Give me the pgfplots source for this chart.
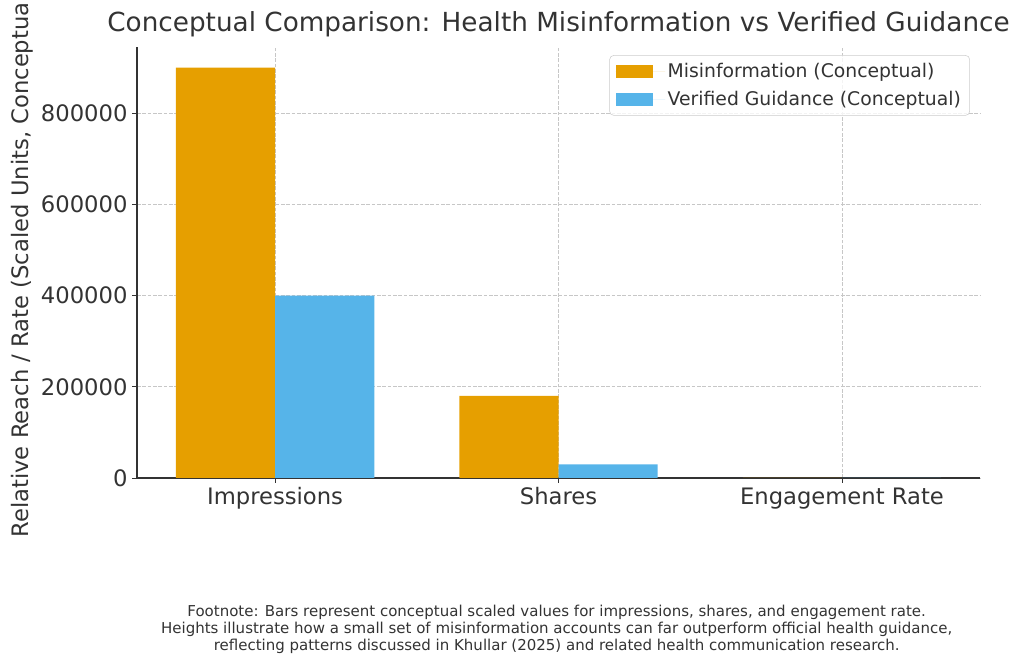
\documentclass[border=0pt]{standalone}
\usepackage{fontspec}
\setmainfont{DejaVu Sans}
\usepackage{pgfplots}
\pgfplotsset{compat=1.18}
\definecolor{misinfo}{HTML}{E69F00}
\definecolor{verified}{HTML}{56B4E9}
\definecolor{txt}{HTML}{333333}

\begin{document}
\begin{tikzpicture}
\useasboundingbox (0,0) rectangle (768pt,499.5pt);
\begin{axis}[
    at={(102.75pt,141pt)}, anchor=south west,
    scale only axis, width=632.25pt, height=323.25pt,
    xmin=-0.487, xmax=2.487, ymin=0, ymax=945000,
    axis x line*=bottom, axis y line*=left,
    axis line style={txt, line width=0.8pt},
    xtick={0,1,2},
    xticklabels={Impressions, Shares, Engagement Rate},
    ytick={0,200000,400000,600000,800000},
    scaled y ticks=false,
    yticklabel style={/pgf/number format/fixed, /pgf/number format/1000 sep={}},
    /pgf/number format/assume math mode=true,
    tick label style={font=\fontsize{17}{20.4}\selectfont, text=txt},
    tick align=outside, major tick length=3.6pt,
    tick style={txt, line width=0.6pt},
    grid=major,
    grid style={dash pattern=on 2.8pt off 1.2pt, black!22, line width=0.6pt},
    ylabel={Relative Reach / Rate (Scaled Units, Conceptual)},
    ylabel style={at={(axis description cs:-0.1364,0.5)}, anchor=center,
        font=\fontsize{17}{20.4}\selectfont, text=txt},
    legend style={at={(0.988,0.981)}, anchor=north east,
        draw=black!20, rounded corners=3pt, fill=white, fill opacity=0.8,
        text opacity=1, font=\fontsize{14.1}{17}\selectfont, text=txt,
        row sep=4.5pt, inner xsep=4.5pt, inner ysep=4pt},
    legend cell align=left,
    legend image code/.code={
        \fill[#1, sharp corners, fill opacity=1] (0pt,-4.9pt) rectangle (27.75pt,4.9pt);
        \path (0pt,0pt) -- (37pt,0pt);},
]
\addplot[ybar, bar width=0.35, bar shift=-0.175, fill=misinfo, draw=none]
    coordinates {(0,900000) (1,180000) (2,0.045)};
\addlegendentry{Misinformation (Conceptual)}
\addplot[ybar, bar width=0.35, bar shift=0.175, fill=verified, draw=none]
    coordinates {(0,400000) (1,30000) (2,0.021)};
\addlegendentry{Verified Guidance (Conceptual)}
\end{axis}
\node[font=\fontsize{19.7}{23.6}\selectfont, text=txt] at (418.9pt,481pt)
    {Conceptual Comparison: Health Misinformation vs Verified Guidance};
\node[align=center, font=\fontsize{11.25}{12.75}\selectfont, text=txt] at (417.5pt,27.75pt)
    {Footnote: Bars represent conceptual scaled values for impressions, shares, and engagement rate.\\
     Heights illustrate how a small set of misinformation accounts can far outperform official health guidance,\\
     reflecting patterns discussed in Khullar (2025) and related health communication research.};
\end{tikzpicture}
\end{document}
